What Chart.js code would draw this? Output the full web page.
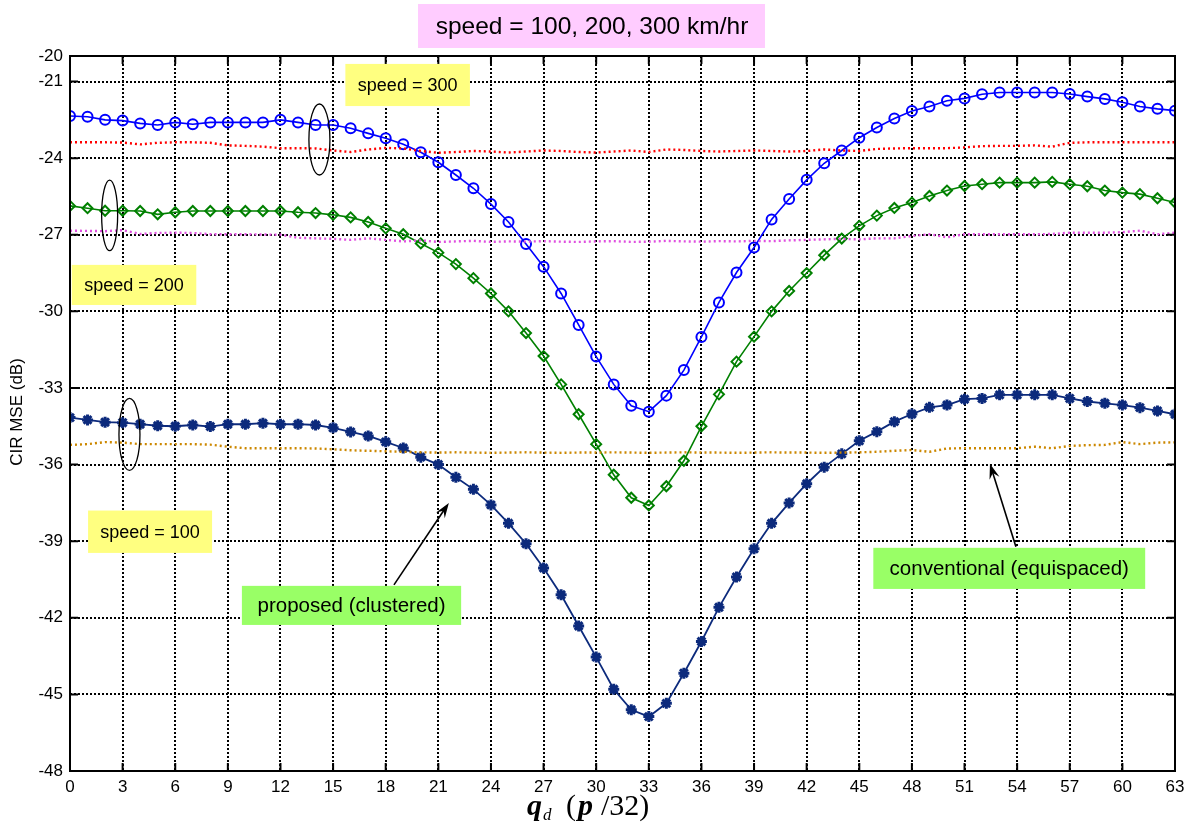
<!DOCTYPE html>
<html>
<head>
<meta charset="utf-8">
<script src="https://cdn.jsdelivr.net/npm/chart.js@4.4.1/dist/chart.umd.min.js"></script>
<style>
  html, body { margin: 0; padding: 0; background: #fff; }
  #wrap { width: 1191px; height: 836px; }
</style>
</head>
<body>
<div id="wrap"><canvas id="chartCanvas" width="1191" height="836"></canvas></div>
<script>
// x positions (theta_d index, unit pi/32)
const thetaIdx = [
  0, 1, 2, 3, 4, 5, 6, 7, 8, 9, 10, 11, 12, 13, 14, 15,
  16, 17, 18, 19, 20, 21, 22, 23, 24, 25, 26, 27, 28, 29, 30, 31,
  32, 33, 34, 35, 36, 37, 38, 39, 40, 41, 42, 43, 44, 45, 46, 47,
  48, 49, 50, 51, 52, 53, 54, 55, 56, 57, 58, 59, 60, 61, 62, 63
];
const xTicks = [0, 3, 6, 9, 12, 15, 18, 21, 24, 27, 30, 33, 36, 39, 42, 45, 48, 51, 54, 57, 60, 63];
const yTicks = [-48, -45, -42, -39, -36, -33, -30, -27, -24, -21, -20];

// proposed (clustered) pilots
const proposed300 = [
  -22.35, -22.38, -22.50, -22.53, -22.64, -22.70, -22.60, -22.67, -22.60, -22.60, -22.60, -22.60, -22.50, -22.60, -22.70, -22.70,
  -22.83, -23.03, -23.22, -23.46, -23.77, -24.16, -24.66, -25.18, -25.80, -26.50, -27.36, -28.25, -29.30, -30.53, -31.77, -32.86,
  -33.70, -33.93, -33.30, -32.30, -31.00, -29.65, -28.48, -27.50, -26.40, -25.60, -24.85, -24.20, -23.70, -23.20, -22.80, -22.45,
  -22.15, -21.98, -21.75, -21.66, -21.50, -21.43, -21.43, -21.43, -21.43, -21.49, -21.59, -21.68, -21.81, -21.98, -22.07, -22.14
];
const proposed200 = [
  -25.87, -25.96, -26.06, -26.06, -26.07, -26.20, -26.12, -26.07, -26.07, -26.07, -26.07, -26.07, -26.07, -26.12, -26.15, -26.22,
  -26.32, -26.50, -26.75, -26.98, -27.34, -27.70, -28.15, -28.70, -29.30, -30.00, -30.85, -31.75, -32.86, -34.03, -35.20, -36.40,
  -37.30, -37.60, -36.85, -35.85, -34.50, -33.25, -31.97, -30.99, -30.00, -29.20, -28.50, -27.80, -27.15, -26.65, -26.25, -25.95,
  -25.74, -25.48, -25.27, -25.09, -25.02, -24.96, -24.96, -24.96, -24.93, -25.02, -25.10, -25.27, -25.35, -25.41, -25.57, -25.74
];
const proposed100 = [
  -34.16, -34.25, -34.34, -34.36, -34.42, -34.48, -34.50, -34.45, -34.51, -34.42, -34.42, -34.38, -34.42, -34.42, -34.45, -34.56,
  -34.72, -34.88, -35.11, -35.35, -35.71, -36.00, -36.50, -36.97, -37.58, -38.30, -39.10, -40.05, -41.10, -42.32, -43.54, -44.80,
  -45.60, -45.87, -45.35, -44.17, -42.93, -41.59, -40.40, -39.30, -38.30, -37.50, -36.75, -36.10, -35.58, -35.07, -34.71, -34.32,
  -34.02, -33.76, -33.67, -33.44, -33.41, -33.27, -33.27, -33.27, -33.27, -33.41, -33.53, -33.60, -33.67, -33.77, -33.90, -34.03
];

// conventional (equispaced) pilots
const conv300 = [
  -23.38, -23.38, -23.38, -23.39, -23.46, -23.40, -23.38, -23.38, -23.40, -23.50, -23.52, -23.55, -23.61, -23.61, -23.62, -23.70,
  -23.76, -23.66, -23.60, -23.62, -23.72, -23.79, -23.76, -23.72, -23.74, -23.78, -23.74, -23.70, -23.72, -23.76, -23.78, -23.74,
  -23.70, -23.76, -23.66, -23.68, -23.72, -23.74, -23.72, -23.70, -23.72, -23.74, -23.72, -23.66, -23.70, -23.72, -23.64, -23.62,
  -23.61, -23.61, -23.61, -23.58, -23.53, -23.52, -23.52, -23.50, -23.55, -23.40, -23.38, -23.38, -23.38, -23.38, -23.38, -23.38
];
const conv200 = [
  -26.84, -26.85, -26.86, -26.82, -26.97, -26.93, -26.92, -26.93, -26.98, -26.98, -26.98, -26.99, -27.00, -27.12, -27.14, -27.16,
  -27.20, -27.14, -27.20, -27.26, -27.22, -27.28, -27.26, -27.24, -27.28, -27.26, -27.27, -27.25, -27.27, -27.28, -27.26, -27.25,
  -27.28, -27.27, -27.24, -27.26, -27.27, -27.25, -27.26, -27.24, -27.25, -27.22, -27.20, -27.18, -27.16, -27.18, -27.14, -27.14,
  -27.05, -26.98, -27.10, -26.98, -26.98, -26.98, -26.98, -26.98, -26.97, -26.92, -26.92, -26.92, -26.90, -26.84, -26.98, -26.92
];
const conv100 = [
  -35.23, -35.20, -35.12, -35.14, -35.20, -35.20, -35.20, -35.20, -35.22, -35.30, -35.36, -35.36, -35.36, -35.36, -35.37, -35.40,
  -35.44, -35.46, -35.48, -35.50, -35.52, -35.53, -35.52, -35.53, -35.54, -35.53, -35.52, -35.53, -35.54, -35.53, -35.53, -35.52,
  -35.53, -35.54, -35.53, -35.52, -35.53, -35.53, -35.54, -35.53, -35.52, -35.53, -35.53, -35.54, -35.53, -35.52, -35.50, -35.46,
  -35.43, -35.50, -35.37, -35.36, -35.36, -35.36, -35.36, -35.30, -35.36, -35.27, -35.24, -35.23, -35.12, -35.20, -35.14, -35.13
];

// annotations, placed in data units
const noteBoxes = [
  { text: "speed = 300", x0: 15.7, x1: 22.8, y0: -20.31, y1: -21.96, fill: "#ffff80", size: 18 },
  { text: "speed = 200", x0: 0.1, x1: 7.2, y0: -28.18, y1: -29.75, fill: "#ffff80", size: 18 },
  { text: "speed = 100", x0: 1.03, x1: 8.1, y0: -37.8, y1: -39.46, fill: "#ffff80", size: 18 },
  { text: "proposed (clustered)", x0: 9.8, x1: 22.3, y0: -40.75, y1: -42.28, fill: "#99ff66", size: 20.5 },
  { text: "conventional (equispaced)", x0: 45.8, x1: 61.3, y0: -39.26, y1: -40.87, fill: "#99ff66", size: 20.5 }
];
const ellipses = [
  { x: 14.22, y: -23.27, rx: 10.5, ry: 35.5 },
  { x: 2.26, y: -26.24, rx: 8, ry: 35.3 },
  { x: 3.39, y: -34.82, rx: 10.5, ry: 36 }
];
const arrows = [
  { from: [18.47, -40.71], to: [21.6, -37.5] },
  { from: [53.93, -39.22], to: [52.45, -35.97] }
];

const SANS = "'Liberation Sans', Arial, sans-serif";
const SERIF = "'Liberation Serif', 'Times New Roman', serif";

const toPoints = (vals) => vals.map((v, i) => ({ x: thetaIdx[i], y: v }));

const dotted = (vals, color) => ({
  data: toPoints(vals),
  borderColor: color,
  borderWidth: 2.4,
  borderDash: [2, 3],
  pointRadius: 0,
  tension: 0
});

const marked = (vals, color, style, radius, pw, lw) => ({
  data: toPoints(vals),
  borderColor: color,
  backgroundColor: "rgba(0,0,0,0)",
  borderWidth: lw,
  pointStyle: style,
  pointRadius: radius,
  pointBorderWidth: pw,
  pointBorderColor: color,
  pointBackgroundColor: "rgba(0,0,0,0)",
  tension: 0
});

const overlay = {
  id: "overlay",
  afterDraw(chart) {
    const { ctx, chartArea: a, scales: { x, y } } = chart;
    ctx.save();

    // inner ticks
    ctx.strokeStyle = "#000";
    ctx.lineWidth = 2;
    ctx.beginPath();
    xTicks.forEach((v) => {
      const px = x.getPixelForValue(v);
      ctx.moveTo(px, a.bottom); ctx.lineTo(px, a.bottom - 8);
      ctx.moveTo(px, a.top); ctx.lineTo(px, a.top + 8);
    });
    yTicks.forEach((v) => {
      const py = y.getPixelForValue(v);
      ctx.moveTo(a.left, py); ctx.lineTo(a.left + 8, py);
      ctx.moveTo(a.right, py); ctx.lineTo(a.right - 8, py);
    });
    ctx.stroke();

    // frame
    ctx.lineWidth = 2;
    ctx.strokeRect(a.left, a.top, a.right - a.left, a.bottom - a.top);

    // ellipses
    ctx.lineWidth = 1.3;
    ellipses.forEach((e) => {
      ctx.beginPath();
      ctx.ellipse(x.getPixelForValue(e.x), y.getPixelForValue(e.y), e.rx, e.ry, 0, 0, Math.PI * 2);
      ctx.stroke();
    });

    // arrows
    arrows.forEach((ar) => {
      const x1 = x.getPixelForValue(ar.from[0]), y1 = y.getPixelForValue(ar.from[1]);
      const x2 = x.getPixelForValue(ar.to[0]), y2 = y.getPixelForValue(ar.to[1]);
      const ang = Math.atan2(y2 - y1, x2 - x1);
      const len = 16, half = 0.33;
      ctx.beginPath();
      ctx.lineWidth = 1.6;
      ctx.moveTo(x1, y1);
      ctx.lineTo(x2 - Math.cos(ang) * 8, y2 - Math.sin(ang) * 8);
      ctx.stroke();
      ctx.beginPath();
      ctx.fillStyle = "#000";
      ctx.moveTo(x2, y2);
      ctx.lineTo(x2 - len * Math.cos(ang - half), y2 - len * Math.sin(ang - half));
      ctx.lineTo(x2 - len * 0.6 * Math.cos(ang), y2 - len * 0.6 * Math.sin(ang));
      ctx.lineTo(x2 - len * Math.cos(ang + half), y2 - len * Math.sin(ang + half));
      ctx.closePath();
      ctx.fill();
    });

    // text boxes
    ctx.textAlign = "center";
    ctx.textBaseline = "middle";
    noteBoxes.forEach((b) => {
      const l = x.getPixelForValue(b.x0), r = x.getPixelForValue(b.x1);
      const t = y.getPixelForValue(b.y0), bt = y.getPixelForValue(b.y1);
      ctx.fillStyle = b.fill;
      ctx.fillRect(l, t, r - l, bt - t);
      ctx.fillStyle = "#000";
      ctx.font = b.size + "px " + SANS;
      ctx.fillText(b.text, (l + r) / 2, (t + bt) / 2 + 1);
    });

    // title box above the axes
    ctx.fillStyle = "#ffccff";
    ctx.fillRect(418, 4, 347, 44);
    ctx.fillStyle = "#000";
    ctx.font = "24.5px " + SANS;
    ctx.fillText("speed = 100, 200, 300 km/hr", 592, 27);

    // y axis title
    ctx.save();
    ctx.translate(17, 412);
    ctx.rotate(-Math.PI / 2);
    ctx.font = "17px " + SANS;
    ctx.fillText("CIR MSE (dB)", 0, 0);
    ctx.restore();

    // x axis title: q_d (p /32)
    ctx.textAlign = "left";
    ctx.textBaseline = "alphabetic";
    let cx = 527;
    const base = 815;
    ctx.font = "bold italic 30px " + SERIF;
    ctx.fillText("q", cx, base);
    cx += ctx.measureText("q").width + 1;
    ctx.font = "italic 17px " + SERIF;
    ctx.fillText("d", cx, base + 5);
    cx = 566;
    ctx.font = "30px " + SERIF;
    ctx.fillText("(", cx, base);
    cx += ctx.measureText("(").width + 2;
    ctx.font = "bold italic 30px " + SERIF;
    ctx.fillText("p", cx, base);
    cx += ctx.measureText("p").width + 8;
    ctx.font = "30px " + SERIF;
    ctx.fillText("/32)", cx, base);

    ctx.restore();
  }
};

new Chart(document.getElementById("chartCanvas").getContext("2d"), {
  type: "line",
  data: {
    datasets: [
      dotted(conv300, "#ff0000"),
      dotted(conv200, "#e050e0"),
      dotted(conv100, "#cc8800"),
      marked(proposed300, "#0000ff", "circle", 5, 2, 1.6),
      marked(proposed200, "#008000", "rectRot", 5, 2, 1.6),
      marked(proposed100, "#0c2a7c", "star", 5.5, 3, 1.8)
    ]
  },
  options: {
    responsive: false,
    animation: false,
    devicePixelRatio: 1,
    layout: { padding: { left: 0, right: 16, top: 56, bottom: 0 } },
    plugins: { legend: { display: false }, tooltip: { enabled: false }, title: { display: false } },
    scales: {
      x: {
        type: "linear",
        min: 0,
        max: 63,
        afterBuildTicks: (s) => { s.ticks = xTicks.map((v) => ({ value: v })); },
        afterFit: (s) => { s.height = 65; },
        grid: { color: "#000", lineWidth: 2, drawTicks: false },
        border: { display: false, dash: [2, 2] },
        ticks: { color: "#000", padding: 6, maxRotation: 0, autoSkip: false, font: { family: SANS, size: 17 } }
      },
      y: {
        type: "linear",
        min: -48,
        max: -20,
        afterBuildTicks: (s) => { s.ticks = yTicks.map((v) => ({ value: v })); },
        afterFit: (s) => { s.width = 70; },
        grid: { color: "#000", lineWidth: 2, drawTicks: false },
        border: { display: false, dash: [2, 2] },
        ticks: { color: "#000", padding: 7, font: { family: SANS, size: 17 } }
      }
    }
  },
  plugins: [overlay]
});
</script>
</body>
</html>
